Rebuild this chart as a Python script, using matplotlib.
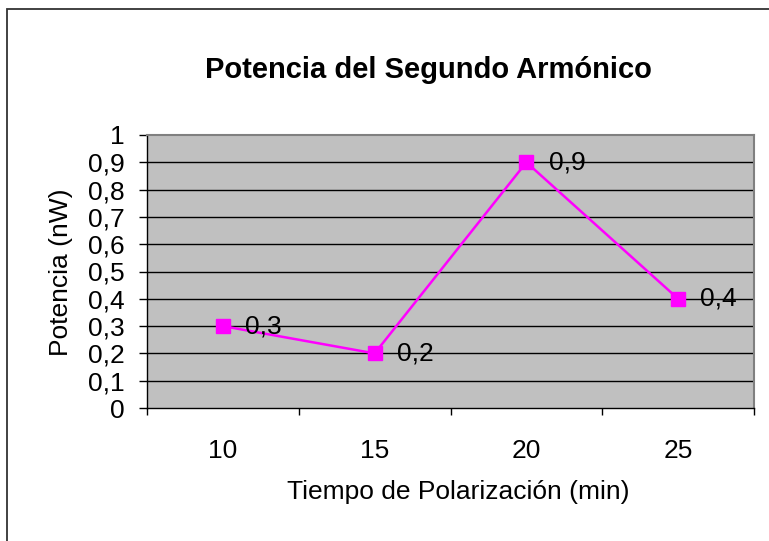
import matplotlib
matplotlib.use("Agg")
import matplotlib.pyplot as plt
from matplotlib.patches import Rectangle

categories = ["10", "15", "20", "25"]
values = [0.3, 0.2, 0.9, 0.4]
value_labels = ["0,3", "0,2", "0,9", "0,4"]
yticks = [0, 0.1, 0.2, 0.3, 0.4, 0.5, 0.6, 0.7, 0.8, 0.9, 1.0]
ytick_labels = ["0", "0,1", "0,2", "0,3", "0,4", "0,5", "0,6", "0,7", "0,8", "0,9", "1"]

plt.rcParams['font.family'] = ['Liberation Sans', 'DejaVu Sans']

W, H = 769, 541
fig = plt.figure(figsize=(W / 100, H / 100), dpi=100)
fig.patch.set_facecolor("white")

# outer chart frame (only left and top visible)
fig.patches.append(Rectangle((6.5 / W, -0.2), 2.0, (H - 8.5) / H + 0.2,
                             transform=fig.transFigure, fill=False,
                             edgecolor="#333333", linewidth=1.3, clip_on=False))

ax = fig.add_axes([147 / W, 133 / H, 607 / W, 273 / H])
ax.set_facecolor("#C0C0C0")

x = list(range(len(categories)))
ax.set_xlim(-0.5, len(categories) - 0.5)
ax.set_ylim(0, 1)

for yv in yticks[1:-1]:
    ax.axhline(yv, color="black", linewidth=1.0, zorder=1)

ax.plot(x, values, color="#FF00FF", linewidth=1.8, marker="s", markersize=9.4,
        markerfacecolor="#FF00FF", markeredgecolor="#FF00FF", zorder=3)

for xi, v, lab in zip(x, values, value_labels):
    ax.annotate(lab, (xi, v), xytext=(16, 0), textcoords="offset points",
                ha="left", va="center", fontsize=19, color="black", zorder=4)

ax.set_yticks(yticks)
ax.set_yticklabels(ytick_labels, fontsize=19)
ax.tick_params(axis="y", direction="out", length=6, width=1, color="black", pad=10)

ax.set_xticks(x)
ax.set_xticklabels(categories, fontsize=19)
ax.tick_params(axis="x", which="major", length=0, pad=22)
ax.set_xticks([i - 0.5 for i in range(len(categories) + 1)], minor=True)
ax.tick_params(axis="x", which="minor", direction="out", length=5, width=1, color="black")

for s in ["top", "right"]:
    ax.spines[s].set_color("#808080")
    ax.spines[s].set_linewidth(1.5)
for s in ["left", "bottom"]:
    ax.spines[s].set_color("black")
    ax.spines[s].set_linewidth(1.0)

fig.text(428 / W, 1 - 70 / H, "Potencia del Segundo Armónico", ha="center", va="center",
         fontsize=21, fontweight="bold")
fig.text(458 / W, 1 - 492 / H, "Tiempo de Polarización (min)", ha="center", va="center",
         fontsize=19)
fig.text(61 / W, 1 - 272 / H, "Potencia (nW)", ha="center", va="center",
         fontsize=19, rotation=90)

fig.savefig("out.png", dpi=100)
